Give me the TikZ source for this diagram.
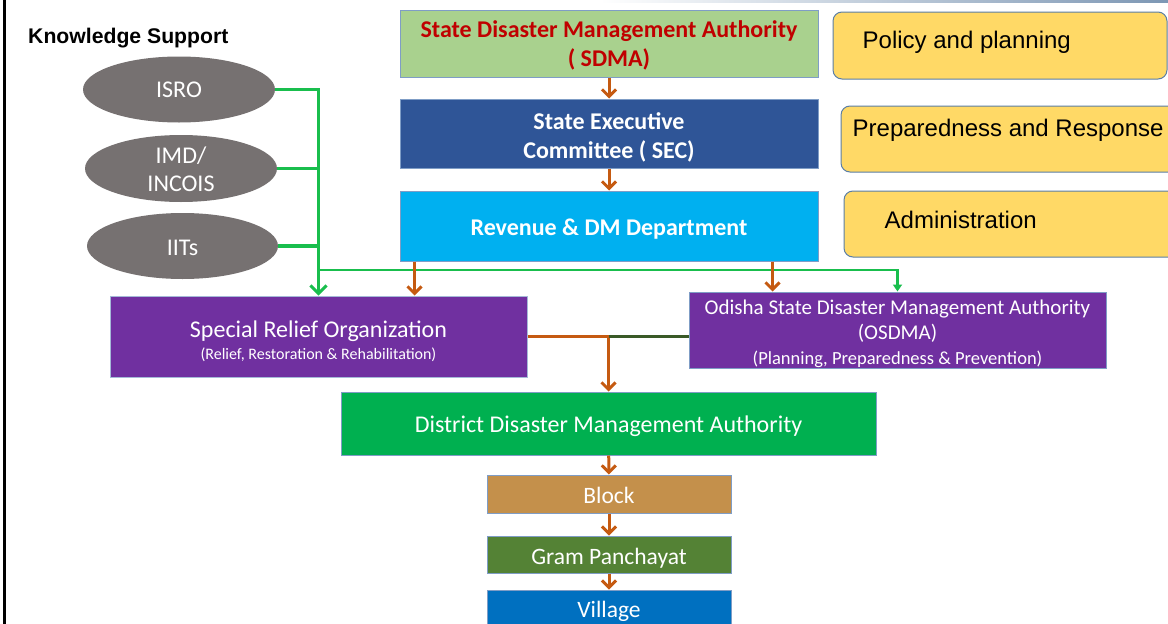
\documentclass[tikz,border=0pt]{standalone}
\usepackage{fontspec}
\setmainfont{Carlito}
\newfontfamily\arialfont{Liberation Sans}
\usepackage{tikz}
\usetikzlibrary{positioning}
\usetikzlibrary{arrows.meta}
\usetikzlibrary{shapes.geometric}
\definecolor{sdmafill}{HTML}{A9D18E}
\definecolor{sdmatext}{HTML}{C00000}
\definecolor{secfill}{HTML}{2F5597}
\definecolor{revfill}{HTML}{00B0F0}
\definecolor{orgfill}{HTML}{7030A0}
\definecolor{ddmafill}{HTML}{00B050}
\definecolor{blockfill}{HTML}{C4904B}
\definecolor{gpfill}{HTML}{548235}
\definecolor{villagefill}{HTML}{0070C0}
\definecolor{rolefill}{HTML}{FFD966}
\definecolor{roleline}{HTML}{5A7EA6}
\definecolor{boxline}{HTML}{7F9DC6}
\definecolor{sourcegray}{HTML}{767171}
\definecolor{chainbrown}{HTML}{C55A11}
\definecolor{supportgreen}{HTML}{19BE4D}
\definecolor{linkgreen}{HTML}{3A5A27}
\definecolor{slideline}{HTML}{7D97B4}
\tikzset{
office/.style={ % Sets the properties for each office box
rectangle,
draw=boxline,
line width=1pt,
inner sep=0pt,
text=white,
align=center,
font=\fontsize{24}{29}\selectfont},
drop/.style={ % Tall strut, pushes the text down a little
execute at begin node={\rule{0pt}{#1}}},
source/.style={ % Knowledge support bodies
ellipse,
fill=sourcegray,
minimum width=192pt,
minimum height=66pt,
inner sep=0pt,
text=white,
align=center,
font=\fontsize{24}{28}\selectfont},
rolebox/.style={ % Yellow boxes on the right
rectangle,
rounded corners=9pt,
fill=rolefill,
draw=roleline,
line width=1pt,
minimum height=67pt},
roletext/.style={inner sep=0pt, font=\arialfont\fontsize{24}{28}\selectfont},
chain/.style={ % Brown chain of command
draw=chainbrown,
line width=3pt,
-{Straight Barb[length=7pt,width=14pt,line width=3pt]}},
support/.style={draw=supportgreen, line width=3.5pt},
supportarrow/.style={support, -{Straight Barb[length=8pt,width=16pt,line width=3pt]}},
branch/.style={draw=supportgreen, line width=2.5pt, -{Triangle[length=7pt,width=9pt]}},
link/.style={draw=linkgreen, line width=3pt}}

\begin{document}
\begin{tikzpicture}[x=1pt, y=-1pt]
\useasboundingbox (0,0) rectangle (1168,624);
\fill[white] (0,0) rectangle (1168,624);
\clip (0,0) rectangle (1168,624);
% slide frame
\shade[left color=white, right color=slideline] (600,0) rectangle (1168,2);
\draw[line width=3pt] (4.5,0) -- (4.5,624);

% knowledge support
\node[anchor=west, inner sep=0pt, font=\arialfont\bfseries\fontsize{21.2}{24}\selectfont] (ks) at (28,38) {Knowledge Support};
\node[source] (isro) at (179,89.5) {ISRO};
\node[source, minimum height=67pt, drop=46.6pt] (imd) at (181,168.5) {IMD/\\INCOIS};
\node[source, minimum width=191pt, drop=0.78em] (iits) at (182.5,246) {IITs};

% state level
\node[office, fill=sdmafill, text=sdmatext, font=\bfseries\fontsize{24}{29}\selectfont, minimum width=418pt, minimum height=67pt, drop=49.6pt] (sdma) at (609,43.5) {State Disaster Management Authority\\( SDMA)};
\node[office, fill=secfill, font=\bfseries\fontsize{24}{29}\selectfont, minimum width=418pt, minimum height=69pt, drop=53.6pt] (sec) at (609,133.5) {State Executive\\Committee ( SEC)};
\node[office, fill=revfill, font=\bfseries\fontsize{24}{29}\selectfont, minimum width=418pt, minimum height=70pt, drop=0.94em] (rev) at (609,226) {Revenue \& DM Department};

% roles
\node[rolebox, minimum width=334pt] (policy) at (1000,45.5) {};
\node[roletext, right=30pt of policy.west, yshift=3pt] (policytxt) {Policy and planning};
\node[rolebox, minimum width=344pt, minimum height=66pt] (prep) at (1013,139) {};
\node[roletext, right=12pt of prep.west, yshift=9pt] (preptxt) {Preparedness and Response};
\node[rolebox, minimum width=341pt, minimum height=66pt] (admin) at (1014.5,224) {};
\node[roletext, right=41pt of admin.west, yshift=4pt] (admintxt) {Administration};

% organisations
\node[office, fill=orgfill, draw=boxline!70!white, minimum width=417pt, minimum height=81pt, drop=48.6pt] (sro) at (318.5,336.5) {Special Relief Organization\\[-7pt]{\fontsize{16}{18}\selectfont (Relief, Restoration \& Rehabilitation)}};
\node[office, fill=orgfill, minimum width=417pt, minimum height=76pt, font=\fontsize{21}{25}\selectfont, drop=72.5pt] (osdma) at (897.5,330) {Odisha State Disaster Management Authority\\(OSDMA)\\{\fontsize{18.5}{25}\selectfont (Planning, Preparedness \& Prevention)}};

% district and below
\node[office, fill=ddmafill, minimum width=535pt, minimum height=63pt, drop=0.96em] (ddma) at (608.5,423.5) {District Disaster Management Authority};
\node[office, fill=blockfill, minimum width=244pt, minimum height=38pt, font=\fontsize{23.5}{26}\selectfont, drop=0.78em] (block) at (609,494) {Block};
\node[office, fill=gpfill, minimum width=244pt, minimum height=37pt, font=\fontsize{23.5}{26}\selectfont, drop=0.98em] (gp) at (609,554.5) {Gram Panchayat};
\node[office, fill=villagefill, minimum width=244pt, minimum height=40pt, font=\fontsize{23.5}{26}\selectfont, drop=0.84em] (village) at (609,610) {Village};

\coordinate (branch) at (318.5,270);
\coordinate (join) at (ddma.north |- sro.east);

% support lines
\draw[supportarrow] (isro.east) -| (sro.north);
\draw[support] (imd.east) -- (imd.east -| sro.north);
\draw[support] (iits.east) -- (iits.east -| sro.north);
\draw[branch] (branch) -| (osdma.north);

% chain of command
\draw[chain] (sdma) -- (sec);
\draw[chain] (sec) -- (rev);
\draw[chain] ([xshift=15pt]rev.south west) -- ([xshift=15pt]rev.south west |- sro.north);
\draw[chain] ([xshift=-46pt]rev.south east) -- ([xshift=-46pt]rev.south east |- osdma.north);
\draw[chain] (sro.east) -| (ddma.north);
\draw[link] (join) -- (join -| osdma.west);
\draw[chain] (ddma) -- (block);
\draw[chain] (block) -- (gp);
\draw[chain] (gp) -- (village);
\end{tikzpicture}
\end{document}
